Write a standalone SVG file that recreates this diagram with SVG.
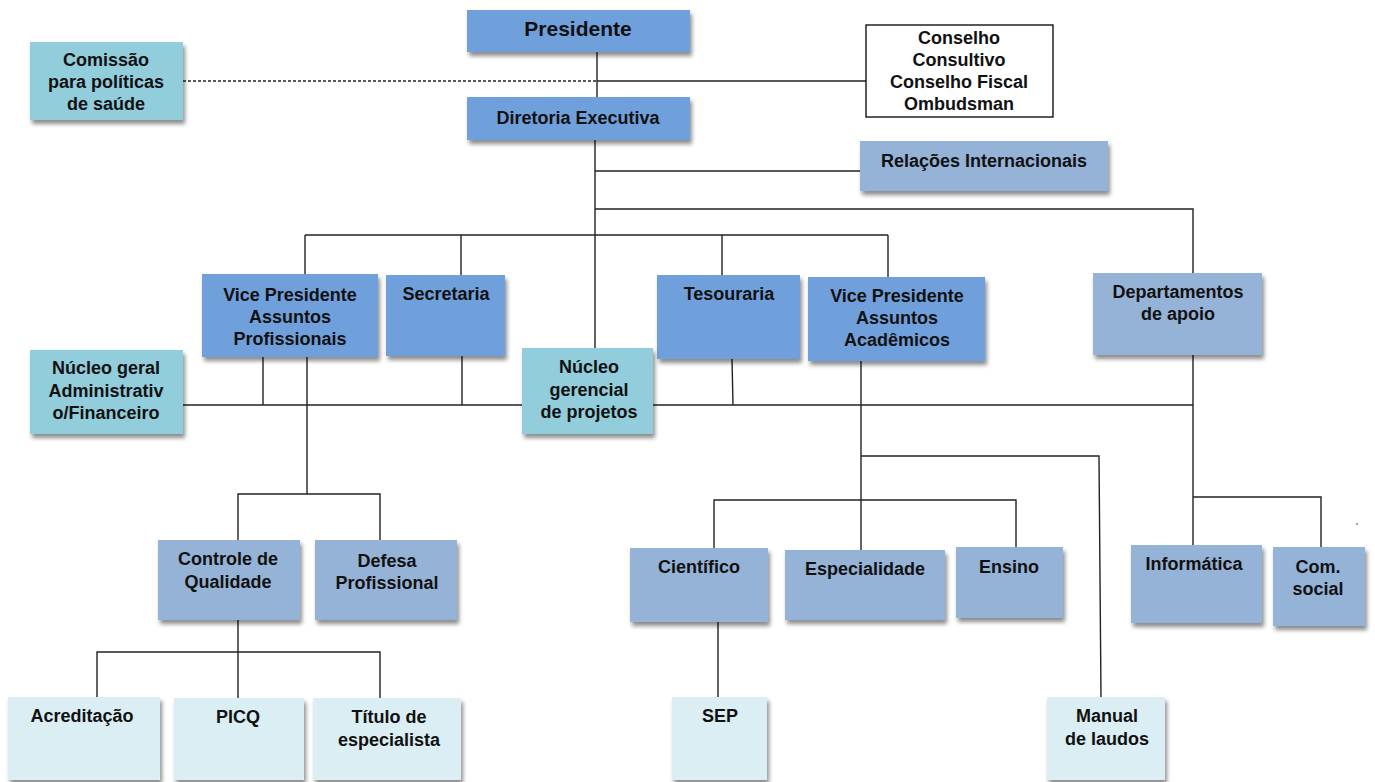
<svg xmlns="http://www.w3.org/2000/svg" width="1375" height="782" viewBox="0 0 1375 782">
<defs>
<filter id="sh" x="-10%" y="-10%" width="130%" height="140%">
<feDropShadow dx="2" dy="4" stdDeviation="2" flood-color="#000" flood-opacity="0.45"/>
</filter>
</defs>
<style>
text{font-family:"Liberation Sans Narrow","Arial Narrow","Liberation Sans",Arial,sans-serif;font-weight:bold;font-size:18px;fill:#111;text-anchor:middle}
.d{fill:#6fa0dc;filter:url(#sh)}
.m{fill:#95b3d7;filter:url(#sh)}
.c{fill:#92cddc;filter:url(#sh)}
.l{fill:#dbeef4;filter:url(#sh)}
.w{fill:#fff;stroke:#000;stroke-width:1.3}
#conn line,#conn polyline{stroke:#222;stroke-width:1.4;fill:none}
</style>
<rect width="1375" height="782" fill="#fff"/>
<g id="conn">
<line x1="597" y1="52" x2="597" y2="97"/>
<line x1="183" y1="81" x2="597" y2="81" stroke-dasharray="3,2"/>
<line x1="597" y1="81" x2="866" y2="81"/>
<line x1="595" y1="140" x2="595" y2="348"/>
<line x1="595" y1="171" x2="860" y2="171"/>
<polyline points="595,209 1193,209 1193,273"/>
<line x1="305" y1="235" x2="888" y2="235"/>
<line x1="305" y1="235" x2="305" y2="274"/>
<line x1="461" y1="235" x2="461" y2="275"/>
<line x1="722" y1="235" x2="722" y2="275"/>
<line x1="888" y1="235" x2="888" y2="277"/>
<line x1="183" y1="405" x2="1193" y2="405"/>
<line x1="263" y1="357" x2="263" y2="405"/>
<line x1="462" y1="356" x2="462" y2="405"/>
<line x1="732" y1="359" x2="733" y2="405"/>
<line x1="1193" y1="355" x2="1193" y2="545"/>
<line x1="307" y1="357" x2="307" y2="494"/>
<polyline points="238,540 238,494 380,494 380,540"/>
<line x1="238" y1="620" x2="238" y2="698"/>
<polyline points="97,697 97,652 380,652 380,698"/>
<line x1="861" y1="361" x2="861" y2="550"/>
<polyline points="714,548 714,500 1016,500 1016,547"/>
<polyline points="861,456 1099,456 1101,697"/>
<line x1="718" y1="622" x2="718" y2="697"/>
<polyline points="1193,497 1321,497 1321,547"/>
</g>
<circle cx="1357" cy="524" r="0.8" fill="#333"/>
<g id="presidente"><rect class="d" x="467" y="10" width="223" height="42"/><text x="578" y="36" style="font-size:21px">Presidente</text></g>
<g id="diretoria"><rect class="d" x="467" y="97" width="223" height="43"/><text x="578" y="124">Diretoria Executiva</text></g>
<g id="comissao"><rect class="c" x="30" y="42" width="153" height="78"/><text x="106" y="66">Comissão</text><text x="106" y="88">para políticas</text><text x="106" y="110">de saúde</text></g>
<g id="conselho"><rect class="w" x="866" y="25" width="187" height="92"/><text x="959" y="44">Conselho</text><text x="959" y="66">Consultivo</text><text x="959" y="88">Conselho Fiscal</text><text x="959" y="110">Ombudsman</text></g>
<g id="relacoes"><rect class="m" x="860" y="141" width="248" height="50"/><text x="984" y="167">Relações Internacionais</text></g>
<g id="vpap"><rect class="d" x="202" y="274" width="176" height="83"/><text x="290" y="301">Vice Presidente</text><text x="290" y="323">Assuntos</text><text x="290" y="345">Profissionais</text></g>
<g id="secretaria"><rect class="d" x="386" y="275" width="119" height="81"/><text x="446" y="300">Secretaria</text></g>
<g id="tesouraria"><rect class="d" x="657" y="275" width="143" height="84"/><text x="729" y="300">Tesouraria</text></g>
<g id="vpaa"><rect class="d" x="808" y="277" width="177" height="84"/><text x="897" y="302">Vice Presidente</text><text x="897" y="324">Assuntos</text><text x="897" y="346">Acadêmicos</text></g>
<g id="departamentos"><rect class="m" x="1093" y="273" width="169" height="82"/><text x="1178" y="298">Departamentos</text><text x="1178" y="320">de apoio</text></g>
<g id="nucleogeral"><rect class="c" x="30" y="350" width="153" height="84"/><text x="106" y="374">Núcleo geral</text><text x="106" y="397">Administrativ</text><text x="106" y="419">o/Financeiro</text></g>
<g id="nucleogerencial"><rect class="c" x="522" y="348" width="131" height="86"/><text x="589" y="373">Núcleo</text><text x="589" y="396">gerencial</text><text x="589" y="418">de projetos</text></g>
<g id="controle"><rect class="m" x="158" y="540" width="142" height="80"/><text x="228" y="565">Controle de</text><text x="228" y="588">Qualidade</text></g>
<g id="defesa"><rect class="m" x="315" y="540" width="142" height="80"/><text x="387" y="567">Defesa</text><text x="387" y="589">Profissional</text></g>
<g id="cientifico"><rect class="m" x="630" y="548" width="138" height="74"/><text x="699" y="573">Científico</text></g>
<g id="especialidade"><rect class="m" x="785" y="550" width="160" height="70"/><text x="865" y="575">Especialidade</text></g>
<g id="ensino"><rect class="m" x="956" y="547" width="107" height="71"/><text x="1009" y="573">Ensino</text></g>
<g id="informatica"><rect class="m" x="1131" y="545" width="131" height="78"/><text x="1194" y="570">Informática</text></g>
<g id="comsocial"><rect class="m" x="1273" y="547" width="92" height="79"/><text x="1318" y="573">Com.</text><text x="1318" y="595">social</text></g>
<g id="acreditacao"><rect class="l" x="8" y="697" width="152" height="83"/><text x="82" y="722">Acreditação</text></g>
<g id="picq"><rect class="l" x="174" y="698" width="130" height="82"/><text x="238" y="723">PICQ</text></g>
<g id="titulo"><rect class="l" x="313" y="698" width="148" height="82"/><text x="389" y="723">Título de</text><text x="389" y="746">especialista</text></g>
<g id="sep"><rect class="l" x="672" y="697" width="95" height="83"/><text x="720" y="722">SEP</text></g>
<g id="manual"><rect class="l" x="1047" y="697" width="118" height="83"/><text x="1107" y="722">Manual</text><text x="1107" y="745">de laudos</text></g>
</svg>
